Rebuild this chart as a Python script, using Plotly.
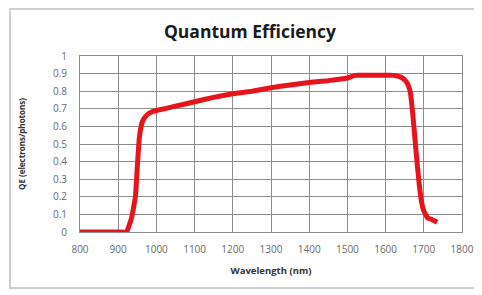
import plotly.graph_objects as go

wavelength = [800, 900, 922, 935, 945, 950, 955, 960, 965, 975, 990, 1000, 1050, 1100, 1150,
              1200, 1250, 1300, 1350, 1400, 1450, 1500, 1520, 1550, 1600, 1620, 1640, 1652,
              1660, 1665, 1672, 1680, 1688, 1695, 1700, 1710, 1722, 1735]
qe = [0, 0, 0, 0.08, 0.2, 0.37, 0.53, 0.6, 0.635, 0.665, 0.685, 0.69, 0.715, 0.74, 0.765,
      0.785, 0.8, 0.82, 0.835, 0.85, 0.86, 0.875, 0.89, 0.89, 0.89, 0.89, 0.88, 0.86,
      0.83, 0.79, 0.65, 0.45, 0.27, 0.16, 0.12, 0.08, 0.07, 0.055]

x_ticks = list(range(800, 1801, 100))
y_ticks = [0, 0.1, 0.2, 0.3, 0.4, 0.5, 0.6, 0.7, 0.8, 0.9, 1]
y_labels = ["0", "0.1", "0.2", "0.3", "0.4", "0.5", "0.6", "0.7", "0.8", "0.9", "1"]

FONT = "Open Sans"
GRID = "#8c8c8c"
TICK = "#6a6a6a"

# page body has an 8px margin, so the figure starts at (8, 8) in the window
OFF = 8
L, T, PW, PH = 80 - OFF, 56 - OFF, 382, 176
W, H = 474, 287

fig = go.Figure()
fig.add_trace(go.Scatter(x=wavelength, y=qe, mode="lines",
                         line=dict(color="#e8141b", width=5, shape="spline", smoothing=0.3),
                         showlegend=False, hoverinfo="skip"))

fig.update_layout(
    width=W, height=H,
    margin=dict(l=L, r=W - L - PW, t=T, b=H - T - PH, autoexpand=False),
    paper_bgcolor="white", plot_bgcolor="white",
    font=dict(family=FONT),
    title=dict(text="<b>Quantum Efficiency</b>", x=0.445, xref="paper", xanchor="center",
               y=1 - (32 - OFF) / H, yanchor="middle",
               font=dict(family=FONT, size=17.5, color="#1a1a1a")),
    xaxis=dict(range=[800, 1800], tickvals=x_ticks, ticktext=[str(v) for v in x_ticks],
               showgrid=True, gridcolor=GRID, gridwidth=1, zeroline=False,
               showline=True, linecolor=GRID, linewidth=1, mirror=True,
               ticks="", ticklabelstandoff=8, automargin=False,
               tickfont=dict(family=FONT, size=10, color=TICK),
               title=dict(text="<b>Wavelength (nm)</b>", standoff=12,
                          font=dict(family=FONT, size=9.5, color="#333333"))),
    yaxis=dict(range=[0, 1], tickvals=y_ticks, ticktext=y_labels,
               showgrid=True, gridcolor=GRID, gridwidth=1, zeroline=False,
               showline=True, linecolor=GRID, linewidth=1, mirror=True,
               ticks="", ticklabelstandoff=10, automargin=False,
               tickfont=dict(family=FONT, size=10, color=TICK),
               title=dict(text="<b>QE (electrons/photons)</b>", standoff=26,
                          font=dict(family=FONT, size=8, color="#333333"))),
)

# outer chart frame
fig.add_shape(type="rect", xref="paper", yref="paper",
              x0=(10 - 80) / PW, x1=(495 - 80) / PW,
              y0=(232 - 288) / PH, y1=(232 - 9) / PH,
              line=dict(color="#cfcfcf", width=2), layer="below")

fig.write_html("out.html")
